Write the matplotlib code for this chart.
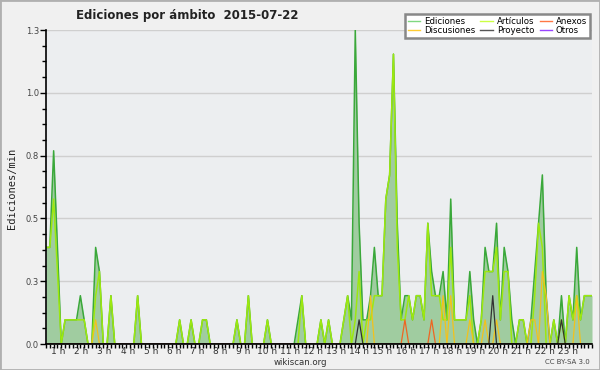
import numpy as np
import matplotlib
matplotlib.use("Agg")
import matplotlib.pyplot as plt
from matplotlib.lines import Line2D
from matplotlib.patches import Rectangle
from matplotlib.ticker import FixedLocator, MultipleLocator

# 10-minute bins over the day (144 points), edits per minute
ediciones = [
    0.4, 0.4, 0.8, 0.4, 0.0, 0.1,
    0.1, 0.1, 0.1, 0.2, 0.1, 0.0,
    0.0, 0.4, 0.3, 0.0, 0.0, 0.2,
    0.0, 0.0, 0.0, 0.0, 0.0, 0.0,
    0.2, 0.0, 0.0, 0.0, 0.0, 0.0,
    0.0, 0.0, 0.0, 0.0, 0.0, 0.1,
    0.0, 0.0, 0.1, 0.0, 0.0, 0.1,
    0.1, 0.0, 0.0, 0.0, 0.0, 0.0,
    0.0, 0.0, 0.1, 0.0, 0.0, 0.2,
    0.0, 0.0, 0.0, 0.0, 0.1, 0.0,
    0.0, 0.0, 0.0, 0.0, 0.0, 0.0,
    0.1, 0.2, 0.0, 0.0, 0.0, 0.0,
    0.1, 0.0, 0.1, 0.0, 0.0, 0.0,
    0.1, 0.2, 0.1, 1.3, 0.5, 0.1,
    0.1, 0.2, 0.4, 0.2, 0.2, 0.6,
    0.7, 1.2, 0.5, 0.1, 0.2, 0.2,
    0.1, 0.2, 0.2, 0.1, 0.5, 0.3,
    0.2, 0.2, 0.3, 0.1, 0.6, 0.1,
    0.1, 0.1, 0.1, 0.3, 0.1, 0.0,
    0.1, 0.4, 0.3, 0.3, 0.5, 0.1,
    0.4, 0.3, 0.1, 0.0, 0.1, 0.1,
    0.0, 0.1, 0.3, 0.5, 0.7, 0.2,
    0.0, 0.1, 0.0, 0.2, 0.0, 0.2,
    0.1, 0.4, 0.1, 0.2, 0.2, 0.2,
]
articulos = [
    0.4, 0.4, 0.6, 0.3, 0.0, 0.1,
    0.1, 0.1, 0.1, 0.1, 0.1, 0.0,
    0.0, 0.2, 0.3, 0.0, 0.0, 0.2,
    0.0, 0.0, 0.0, 0.0, 0.0, 0.0,
    0.2, 0.0, 0.0, 0.0, 0.0, 0.0,
    0.0, 0.0, 0.0, 0.0, 0.0, 0.1,
    0.0, 0.0, 0.1, 0.0, 0.0, 0.1,
    0.1, 0.0, 0.0, 0.0, 0.0, 0.0,
    0.0, 0.0, 0.1, 0.0, 0.0, 0.2,
    0.0, 0.0, 0.0, 0.0, 0.1, 0.0,
    0.0, 0.0, 0.0, 0.0, 0.0, 0.0,
    0.0, 0.2, 0.0, 0.0, 0.0, 0.0,
    0.1, 0.0, 0.1, 0.0, 0.0, 0.0,
    0.1, 0.2, 0.0, 0.1, 0.3, 0.0,
    0.1, 0.1, 0.2, 0.2, 0.2, 0.6,
    0.7, 1.2, 0.4, 0.1, 0.1, 0.2,
    0.1, 0.2, 0.2, 0.1, 0.5, 0.2,
    0.2, 0.2, 0.1, 0.1, 0.4, 0.1,
    0.1, 0.1, 0.1, 0.2, 0.0, 0.0,
    0.1, 0.3, 0.3, 0.3, 0.4, 0.1,
    0.3, 0.3, 0.0, 0.0, 0.1, 0.1,
    0.0, 0.0, 0.2, 0.5, 0.4, 0.0,
    0.0, 0.1, 0.0, 0.1, 0.0, 0.2,
    0.1, 0.2, 0.1, 0.2, 0.2, 0.2,
]
discusiones = [
    0, 0, 0, 0, 0, 0,
    0, 0, 0, 0, 0, 0,
    0, 0.1, 0, 0, 0, 0,
    0, 0, 0, 0, 0, 0,
    0, 0, 0, 0, 0, 0,
    0, 0, 0, 0, 0, 0,
    0, 0, 0, 0, 0, 0,
    0, 0, 0, 0, 0, 0,
    0, 0, 0, 0, 0, 0,
    0, 0, 0, 0, 0, 0,
    0, 0, 0, 0, 0, 0,
    0, 0, 0, 0, 0, 0,
    0, 0, 0, 0, 0, 0,
    0, 0, 0, 0, 0, 0,
    0, 0.2, 0, 0, 0, 0,
    0, 0, 0, 0, 0, 0,
    0, 0, 0, 0, 0, 0,
    0, 0, 0.2, 0, 0.2, 0,
    0, 0, 0, 0.1, 0, 0,
    0, 0.1, 0, 0, 0.1, 0,
    0, 0, 0, 0, 0, 0,
    0, 0.1, 0.1, 0, 0.3, 0.2,
    0, 0, 0, 0, 0, 0,
    0, 0.2, 0, 0, 0, 0,
]
anexos = [
    0, 0, 0, 0, 0, 0,  0, 0, 0, 0, 0, 0,  0, 0, 0, 0, 0, 0,
    0, 0, 0, 0, 0, 0,  0, 0, 0, 0, 0, 0,  0, 0, 0, 0, 0, 0,
    0, 0, 0, 0, 0, 0,  0, 0, 0, 0, 0, 0,  0, 0, 0, 0, 0, 0,
    0, 0, 0, 0, 0, 0,  0, 0, 0, 0, 0, 0,  0, 0, 0, 0, 0, 0,
    0, 0, 0, 0, 0, 0,  0, 0, 0, 0, 0, 0,  0, 0, 0, 0, 0, 0,
    0, 0, 0, 0, 0, 0,  0, 0, 0, 0, 0, 0,  0, 0, 0, 0, 0, 0,
    0, 0, 0, 0, 0, 0,  0, 0, 0, 0, 0, 0,  0, 0, 0, 0, 0, 0,
    0, 0, 0, 0, 0, 0,  0, 0, 0, 0, 0, 0,  0, 0, 0, 0, 0, 0,
]
anexos[94] = 0.1
anexos[101] = 0.1
proyecto = [
    0, 0, 0, 0, 0, 0,  0, 0, 0, 0, 0, 0,  0, 0, 0, 0, 0, 0,
    0, 0, 0, 0, 0, 0,  0, 0, 0, 0, 0, 0,  0, 0, 0, 0, 0, 0,
    0, 0, 0, 0, 0, 0,  0, 0, 0, 0, 0, 0,  0, 0, 0, 0, 0, 0,
    0, 0, 0, 0, 0, 0,  0, 0, 0, 0, 0, 0,  0, 0, 0, 0, 0, 0,
    0, 0, 0, 0, 0, 0,  0, 0, 0, 0, 0, 0,  0, 0, 0, 0, 0, 0,
    0, 0, 0, 0, 0, 0,  0, 0, 0, 0, 0, 0,  0, 0, 0, 0, 0, 0,
    0, 0, 0, 0, 0, 0,  0, 0, 0, 0, 0, 0,  0, 0, 0, 0, 0, 0,
    0, 0, 0, 0, 0, 0,  0, 0, 0, 0, 0, 0,  0, 0, 0, 0, 0, 0,
]
proyecto[82] = 0.1
proyecto[117] = 0.2
proyecto[135] = 0.1
otros = [0.0] * 144

hours = list(range(1, 24))
hour_labels = [f"{h} h" for h in hours]

x = np.arange(len(ediciones))

fig = plt.figure(figsize=(6, 3.7), dpi=100, facecolor="#f0f0f0")
ax = fig.add_axes([46 / 600, 26 / 370, 546 / 600, 314 / 370])
ax.set_facecolor("#eceef0")

ax.fill_between(x, 0, ediciones, color="#a0cca0", lw=0, zorder=1)
ax.plot(x, ediciones, color="#3aa83a", lw=1.1, zorder=2)
ax.plot(x, articulos, color="#9de80f", lw=1.1, zorder=2)
ax.plot(x, discusiones, color="#f2c21c", lw=0.9, zorder=2)
ax.plot(x, anexos, color="#ee6622", lw=0.9, zorder=2)
ax.plot(x, proyecto, color="#333333", lw=0.9, zorder=2)
ax.plot(x, otros, color="#9944ff", lw=0.9, zorder=2)

ax.set_xlim(0, len(x) - 1)
ax.set_ylim(0, 1.3)

# y axis: 5 divisions of the max, 4 minor steps each
ax.yaxis.set_major_locator(FixedLocator(np.linspace(0, 1.3, 6)))
ax.yaxis.set_major_formatter(plt.FuncFormatter(lambda v, p: f"{v:.1f}"))
ax.yaxis.set_minor_locator(MultipleLocator(0.065))
ax.yaxis.grid(True, color="#cfcfcf", lw=1)
ax.set_axisbelow(True)

# x axis: one tick per 10-minute bin, hour labels
ax.xaxis.set_minor_locator(FixedLocator(x))
label_pos = [(12.3 + 23.17 * (h - 1)) / 3.82 for h in hours]
ax.set_xticks(label_pos)
ax.set_xticklabels(hour_labels)

ax.tick_params(axis="y", which="major", direction="out", length=4, width=1,
               labelsize=6, labelcolor="#444444", pad=1)
ax.tick_params(axis="y", which="minor", direction="out", length=3, width=1)
ax.tick_params(axis="x", which="major", length=0, labelsize=6.5,
               labelcolor="#333333", pad=2)
ax.tick_params(axis="x", which="minor", direction="out", length=3, width=1)

for s in ["top", "right"]:
    ax.spines[s].set_visible(False)
for s in ["left", "bottom"]:
    ax.spines[s].set_linewidth(1.2)
    ax.spines[s].set_zorder(5)

fig.text(12 / 600, 1 - 188 / 370, "Ediciones/min", rotation=90, ha="center",
         va="center", family="DejaVu Sans Mono", fontsize=7.5, color="#222222")
fig.text(187 / 600, 1 - 15 / 370, "Ediciones por ámbito  2015-07-22",
         ha="center", va="center", fontweight="bold", fontsize=8.5,
         color="#222222")
fig.text(300 / 600, 1 - 362.5 / 370, "wikiscan.org", ha="center", va="center",
         fontsize=6.2, color="#333333")
fig.text(590 / 600, 1 - 362 / 370, "CC BY-SA 3.0", ha="right", va="center",
         fontsize=5, color="#444444")

handles = [
    Line2D([], [], color="#80d880", lw=1),
    Line2D([], [], color="#ffcc33", lw=1),
    Line2D([], [], color="#ccff44", lw=1),
    Line2D([], [], color="#555555", lw=1),
    Line2D([], [], color="#ff7744", lw=1),
    Line2D([], [], color="#9944ff", lw=1),
]
names = ["Ediciones", "Discusiones", "Artículos", "Proyecto", "Anexos", "Otros"]
leg = fig.legend(handles, names, ncol=3, loc="upper right",
                 bbox_to_anchor=(594 / 600, 1 - 10 / 370), fontsize=6.2,
                 handlelength=1.4, handletextpad=0.5, columnspacing=0.6,
                 labelspacing=0.05, borderpad=0.3, fancybox=False,
                 framealpha=1, facecolor="white", edgecolor="#888888")
leg.get_frame().set_linewidth(1.8)

fig.patches.append(Rectangle((0, 0), 1, 1, transform=fig.transFigure,
                             fill=False, edgecolor="#b0b0b0", lw=2))

fig.savefig("out.png", dpi=100, facecolor=fig.get_facecolor())
